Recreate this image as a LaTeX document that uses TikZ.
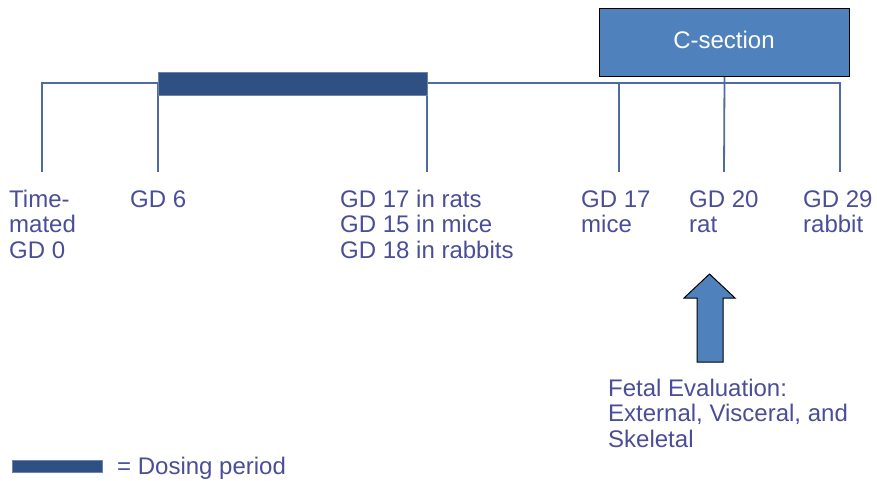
\documentclass[tikz,border=0pt]{standalone}
\usepackage{fontspec}
\setmainfont{Liberation Sans}
\definecolor{linec}{RGB}{79,108,160}
\definecolor{dosec}{RGB}{47,80,131}
\definecolor{boxc}{RGB}{79,129,189}
\definecolor{textc}{RGB}{74,78,150}
\tikzset{
  tl/.style={draw=linec, line width=1.8pt},
  lbl/.style={anchor=base west, inner sep=0pt, align=left, text=textc,
    font=\fontsize{24}{25.5}\selectfont},
  dose/.style={fill=dosec, draw=dosec!70!white, line width=0.8pt},
}
\begin{document}
\begin{tikzpicture}[x=1pt,y=-1pt]
\useasboundingbox (0,0) rectangle (877,481);
% timeline
\coordinate (L) at (42,83);
\coordinate (R) at (840,83);
\coordinate (t0) at (42,172);
\coordinate (t6) at (158,172);
\coordinate (t17) at (427,172);
\coordinate (tm) at (619,172);
\coordinate (tr) at (724,172);
\coordinate (tb) at (840,172);
\draw[tl] (t0) -- (L) -- (R) -- (tb);
\draw[tl] (158,83) -- (t6);
\draw[tl] (427,83) -- (t17);
\draw[tl] (619,83) -- (tm);
% dosing bar
\node[dose, minimum width=269pt, minimum height=23pt, inner sep=0pt, anchor=north west] (bar) at (158,72) {};
% C-section box
\node[draw=black, fill=boxc, line width=1pt, minimum width=250pt, minimum height=68pt, anchor=north west, inner sep=0pt] (cs) at (599,8) {};
\node[text=white, font=\fontsize{24}{26}\selectfont, inner sep=0pt, anchor=base] (cst) at (724,49) {C-section};
\draw[tl] (cs.south) -- (tr);
% labels (anchored at the baseline of the last line; first baseline at 207)
\node[lbl] (l0) at (9,258) {Time-\\mated\\GD 0};
\node[lbl] (l6) at (130,207) {GD 6};
\node[lbl] (l17) at (340,258) {GD 17 in rats\\GD 15 in mice\\GD 18 in rabbits};
\node[lbl] (lm) at (581,232.5) {GD 17\\mice};
\node[lbl] (lr) at (689,232.5) {GD 20\\rat};
\node[lbl] (lb) at (803,232.5) {GD 29\\rabbit};
% block arrow
\draw[fill=boxc, draw=black, line width=1pt] (697,362) -- (697,298) -- (684,298) -- (709.5,274) -- (735,298) -- (723,298) -- (723,362) -- cycle;
\node[lbl] (fe) at (608,447) {Fetal Evaluation:\\External, Visceral, and\\Skeletal};
% legend
\node[dose, minimum width=90pt, minimum height=12pt, inner sep=0pt, anchor=north west] (leg) at (12,460) {};
\node[lbl] (legt) at (117,474) {= Dosing period};
\end{tikzpicture}
\end{document}
